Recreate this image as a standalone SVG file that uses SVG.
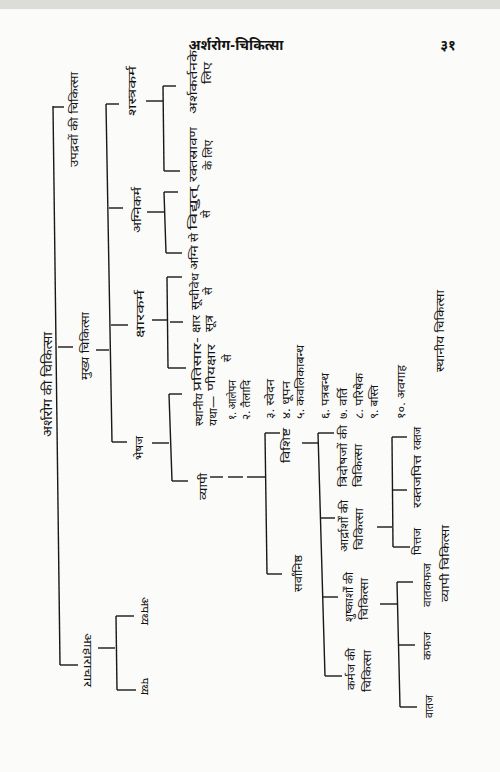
<svg xmlns="http://www.w3.org/2000/svg" width="500" height="772" viewBox="0 0 500 772">
<style>
text{font-family:"Noto Sans Devanagari","Lohit Devanagari","Noto Sans",sans-serif;fill:#141414;font-size:11.5px}
.b{font-size:13px}
.h{font-size:14px;font-weight:bold}
#connectors line{stroke:#181818;stroke-width:1.4}
</style>
<rect width="500" height="772" fill="#fbfbf9"/>
<rect width="500" height="9" fill="#dcdcd9"/>
<g id="header">
<text class="h" x="236" y="50" text-anchor="middle">अर्शरोग-चिकित्सा</text>
<text class="h" x="448" y="50" text-anchor="middle">३१</text>
</g>
<g id="connectors">
<line x1="53" y1="106" x2="60" y2="665"/>
<line x1="53" y1="107" x2="64" y2="107"/>
<line x1="58" y1="347" x2="73" y2="347"/>
<line x1="60" y1="665" x2="78" y2="665"/>
<line x1="96" y1="350" x2="109" y2="350"/>
<line x1="106" y1="104" x2="112" y2="442"/>
<line x1="106" y1="104" x2="119" y2="104"/>
<line x1="109" y1="208" x2="123" y2="208"/>
<line x1="111" y1="325" x2="128" y2="325"/>
<line x1="112" y1="442" x2="127" y2="442"/>
<line x1="146" y1="101" x2="163" y2="101"/>
<line x1="163" y1="86" x2="164" y2="171"/>
<line x1="163" y1="86" x2="176" y2="86"/>
<line x1="164" y1="171" x2="180" y2="171"/>
<line x1="147" y1="212" x2="164" y2="212"/>
<line x1="164" y1="192" x2="166" y2="253"/>
<line x1="164" y1="192" x2="178" y2="192"/>
<line x1="166" y1="253" x2="182" y2="253"/>
<line x1="152" y1="320" x2="167" y2="320"/>
<line x1="167" y1="277" x2="168" y2="368"/>
<line x1="167" y1="277" x2="182" y2="277"/>
<line x1="170" y1="322" x2="183" y2="322"/>
<line x1="168" y1="368" x2="186" y2="368"/>
<line x1="152" y1="443" x2="169" y2="443"/>
<line x1="169" y1="394" x2="172" y2="481"/>
<line x1="169" y1="394" x2="182" y2="394"/>
<line x1="172" y1="481" x2="188" y2="481"/>
<line x1="210" y1="477" x2="223" y2="477"/>
<line x1="228" y1="477" x2="243" y2="477"/>
<line x1="247" y1="477" x2="265" y2="477"/>
<line x1="265" y1="433" x2="267" y2="574"/>
<line x1="265" y1="433" x2="280" y2="433"/>
<line x1="267" y1="574" x2="282" y2="574"/>
<line x1="302" y1="443" x2="318" y2="443"/>
<line x1="318" y1="433" x2="325" y2="676"/>
<line x1="318" y1="433" x2="334" y2="433"/>
<line x1="321" y1="518" x2="335" y2="518"/>
<line x1="323" y1="597" x2="338" y2="597"/>
<line x1="325" y1="676" x2="342" y2="676"/>
<line x1="377" y1="527" x2="392" y2="527"/>
<line x1="392" y1="437" x2="393" y2="547"/>
<line x1="392" y1="437" x2="407" y2="437"/>
<line x1="393" y1="490" x2="407" y2="490"/>
<line x1="393" y1="547" x2="410" y2="547"/>
<line x1="380" y1="604" x2="397" y2="604"/>
<line x1="397" y1="582" x2="400" y2="707"/>
<line x1="397" y1="582" x2="413" y2="582"/>
<line x1="398" y1="645" x2="415" y2="645"/>
<line x1="400" y1="707" x2="417" y2="707"/>
<line x1="98" y1="648" x2="115" y2="648"/>
<line x1="116" y1="616" x2="117" y2="690"/>
<line x1="116" y1="616" x2="134" y2="616"/>
<line x1="117" y1="690" x2="136" y2="690"/>
</g>
<g id="n-root"><text class="b" transform="translate(52,437) rotate(-90)" textLength="105" lengthAdjust="spacingAndGlyphs">अर्शरोग की चिकित्सा</text></g>
<g id="n-upadrav"><text transform="translate(78,167) rotate(-90)" textLength="95" lengthAdjust="spacingAndGlyphs">उपद्रवों की चिकित्सा</text></g>
<g id="n-mukhya"><text transform="translate(89,380) rotate(-90)" textLength="68" lengthAdjust="spacingAndGlyphs">मुख्य चिकित्सा</text></g>
<g id="n-shastra"><text transform="translate(136,116) rotate(-90)" textLength="50" lengthAdjust="spacingAndGlyphs">शस्त्रकर्म</text></g>
<g id="n-agnikarma"><text transform="translate(141,233) rotate(-90)" textLength="46" lengthAdjust="spacingAndGlyphs">अग्निकर्म</text></g>
<g id="n-ksharkarma"><text transform="translate(144,338) rotate(-90)" textLength="48" lengthAdjust="spacingAndGlyphs">क्षारकर्म</text></g>
<g id="n-bheshaj"><text transform="translate(143,460) rotate(-90)" textLength="24" lengthAdjust="spacingAndGlyphs">भेषज</text></g>
<g id="n-arshkartan"><text transform="translate(197,114) rotate(-90)" textLength="64" lengthAdjust="spacingAndGlyphs">अर्शकर्तनके</text><text transform="translate(211,84) rotate(-90)" textLength="22" lengthAdjust="spacingAndGlyphs">लिए</text></g>
<g id="n-raktasrav"><text transform="translate(197,182) rotate(-90)" textLength="55" lengthAdjust="spacingAndGlyphs">रक्तस्रावण</text><text transform="translate(212,170) rotate(-90)" textLength="30" lengthAdjust="spacingAndGlyphs">के लिए</text></g>
<g id="n-vidyut"><text transform="translate(197,230) rotate(-90)" textLength="43" lengthAdjust="spacingAndGlyphs">विद्युत्</text><text transform="translate(210,218) rotate(-90)">से</text></g>
<g id="n-agnise"><text transform="translate(198,270) rotate(-90)" textLength="37" lengthAdjust="spacingAndGlyphs">अग्नि से</text></g>
<g id="n-suchi"><text transform="translate(199,310) rotate(-90)" textLength="37" lengthAdjust="spacingAndGlyphs">सूचीवेध</text><text transform="translate(212,295) rotate(-90)">से</text></g>
<g id="n-ksharsutra"><text transform="translate(200,333) rotate(-90)" textLength="18" lengthAdjust="spacingAndGlyphs">क्षार</text><text transform="translate(213,332) rotate(-90)" textLength="17" lengthAdjust="spacingAndGlyphs">सूत्र</text></g>
<g id="n-pratisar"><text transform="translate(201,391) rotate(-90)" textLength="54" lengthAdjust="spacingAndGlyphs">प्रतिसार-</text><text transform="translate(215,391) rotate(-90)" textLength="47" lengthAdjust="spacingAndGlyphs">णीयक्षार</text><text transform="translate(231,362) rotate(-90)">से</text></g>
<g id="n-sthaniya">
<text transform="translate(203,426) rotate(-90)" textLength="33" lengthAdjust="spacingAndGlyphs">स्थानीय</text>
<text transform="translate(217,426) rotate(-90)" textLength="30" lengthAdjust="spacingAndGlyphs">यथा—</text>
<text transform="translate(236,420) rotate(-90)" textLength="40" lengthAdjust="spacingAndGlyphs">१. आलेपन</text>
<text transform="translate(250,420) rotate(-90)" textLength="40" lengthAdjust="spacingAndGlyphs">२. तैलादि</text>
<text transform="translate(274,419) rotate(-90)" textLength="40" lengthAdjust="spacingAndGlyphs">३. स्वेदन</text>
<text transform="translate(290,419) rotate(-90)" textLength="38" lengthAdjust="spacingAndGlyphs">४. धूपन</text>
<text transform="translate(304,419) rotate(-90)" textLength="74" lengthAdjust="spacingAndGlyphs">५. कवलिकाबन्ध</text>
<text transform="translate(329,419) rotate(-90)" textLength="46" lengthAdjust="spacingAndGlyphs">६. पत्रबन्ध</text>
<text transform="translate(347,419) rotate(-90)" textLength="31" lengthAdjust="spacingAndGlyphs">७. वर्ति</text>
<text transform="translate(363,419) rotate(-90)" textLength="46" lengthAdjust="spacingAndGlyphs">८. परिषेक</text>
<text transform="translate(378,419) rotate(-90)" textLength="34" lengthAdjust="spacingAndGlyphs">९. बस्ति</text>
<text transform="translate(405,419) rotate(-90)" textLength="54" lengthAdjust="spacingAndGlyphs">१०. अवगाह</text>
</g>
<g id="n-vyapi"><text transform="translate(207,500) rotate(-90)" textLength="27" lengthAdjust="spacingAndGlyphs">व्यापी</text></g>
<g id="n-vishisht"><text transform="translate(290,463) rotate(-90)" textLength="35" lengthAdjust="spacingAndGlyphs">विशिष्ट</text></g>
<g id="n-sarvanishth"><text transform="translate(302,592) rotate(-90)" textLength="37" lengthAdjust="spacingAndGlyphs">सर्वांनिष्ठ</text></g>
<g id="n-tridosh"><text transform="translate(347,487) rotate(-90)" textLength="62" lengthAdjust="spacingAndGlyphs">त्रिदोषजों की</text><text transform="translate(362,487) rotate(-90)" textLength="43" lengthAdjust="spacingAndGlyphs">चिकित्सा</text></g>
<g id="n-ardra"><text transform="translate(348,552) rotate(-90)" textLength="52" lengthAdjust="spacingAndGlyphs">आर्द्रार्शों की</text><text transform="translate(363,550) rotate(-90)" textLength="42" lengthAdjust="spacingAndGlyphs">चिकित्सा</text></g>
<g id="n-shushka"><text transform="translate(353,622) rotate(-90)" textLength="50" lengthAdjust="spacingAndGlyphs">शुष्कार्शों की</text><text transform="translate(368,620) rotate(-90)" textLength="42" lengthAdjust="spacingAndGlyphs">चिकित्सा</text></g>
<g id="n-karmaj"><text transform="translate(355,690) rotate(-90)" textLength="42" lengthAdjust="spacingAndGlyphs">कर्मज की</text><text transform="translate(371,692) rotate(-90)" textLength="42" lengthAdjust="spacingAndGlyphs">चिकित्सा</text></g>
<g id="n-raktaj"><text transform="translate(421,450) rotate(-90)" textLength="23" lengthAdjust="spacingAndGlyphs">रक्तज</text></g>
<g id="n-raktapitta"><text transform="translate(421,508) rotate(-90)" textLength="53" lengthAdjust="spacingAndGlyphs">रक्तजपित्त</text></g>
<g id="n-pittaj"><text transform="translate(421,555) rotate(-90)" textLength="27" lengthAdjust="spacingAndGlyphs">पित्तज</text></g>
<g id="n-vatakapha"><text transform="translate(431,607) rotate(-90)" textLength="44" lengthAdjust="spacingAndGlyphs">वातकफज</text></g>
<g id="n-kaphaj"><text transform="translate(431,660) rotate(-90)" textLength="28" lengthAdjust="spacingAndGlyphs">कफज</text></g>
<g id="n-vataj"><text transform="translate(433,718) rotate(-90)" textLength="23" lengthAdjust="spacingAndGlyphs">वातज</text></g>
<g id="n-sthaniya-chikitsa"><text transform="translate(444,372) rotate(-90)" textLength="82" lengthAdjust="spacingAndGlyphs">स्थानीय चिकित्सा</text></g>
<g id="n-vyapi-chikitsa"><text transform="translate(449,602) rotate(-90)" textLength="77" lengthAdjust="spacingAndGlyphs">व्यापी चिकित्सा</text></g>
<g id="n-aharachar"><text transform="translate(84,633) rotate(90)" textLength="54" lengthAdjust="spacingAndGlyphs">आहाराचार</text></g>
<g id="n-apathya"><text transform="translate(141,597) rotate(90)" textLength="28" lengthAdjust="spacingAndGlyphs">अपथ्य</text></g>
<g id="n-pathya"><text transform="translate(141,678) rotate(90)" textLength="17" lengthAdjust="spacingAndGlyphs">पथ्य</text></g>
</svg>
